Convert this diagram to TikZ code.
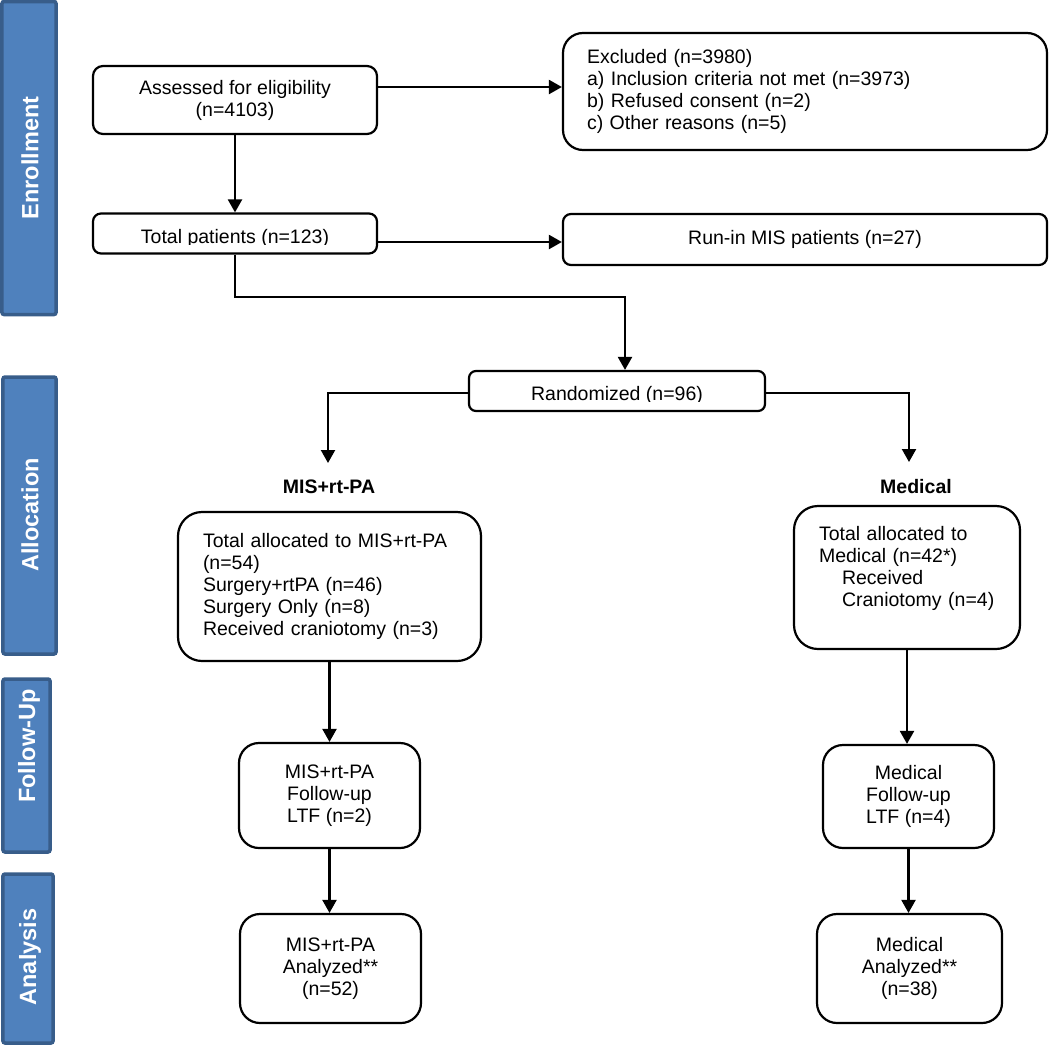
\documentclass[tikz,border=0pt]{standalone}
\usepackage{fontspec}
\setmainfont{Liberation Sans}
\usetikzlibrary{arrows.meta}
\definecolor{barfill}{HTML}{4F81BD}
\definecolor{barline}{HTML}{385D8A}
\begin{document}
\begin{tikzpicture}[x=1bp,y=-1bp,
  every node/.style={font=\fontsize{19.5bp}{22bp}\selectfont},
  box/.style={draw, line width=2.2bp, rounded corners=#1, inner sep=0pt, align=center},
  box/.default=12bp,
  lbox/.style={box=#1, align=left},
  lbox/.default=20bp,
  arr/.style={line width=2.2bp, -{Triangle[length=13bp,width=14bp]}},
  bar/.style={draw=barline, fill=barfill, line width=3.5bp, rounded corners=2bp, inner sep=0pt},
  bartxt/.style={rotate=90, text=white, font=\fontsize{23.5bp}{26bp}\selectfont\bfseries},
  head/.style={font=\fontsize{19.5bp}{22bp}\selectfont\bfseries}
]
\useasboundingbox (0,0) rectangle (1050,1049);

% side bars
\node[bar, minimum width=54bp, minimum height=313bp] (bEnr) at (29,158) {};
\node[bartxt] (tEnr) at (30,158) {Enrollment};
\node[bar, minimum width=53bp, minimum height=277bp] (bAll) at (29.5,515.5) {};
\node[bartxt] (tAll) at (30,515) {Allocation};
\node[bar, minimum width=47bp, minimum height=173bp] (bFol) at (26.5,765.5) {};
\node[bartxt] (tFol) at (29,746) {Follow-Up};
\node[bar, minimum width=50bp, minimum height=169bp] (bAna) at (28,958.5) {};
\node[bartxt] (tAna) at (30,957) {Analysis};

% enrollment
\node[box=10bp, minimum width=284bp, minimum height=68bp] (assess) at (235,100) {Assessed for eligibility\\(n=4103)};
\node[lbox=20bp, inner xsep=24bp, text width=436bp, minimum width=484bp, minimum height=117bp] (excl) at (805,91.5)
  {Excluded (n=3980)\\a) Inclusion criteria not met (n=3973)\\b) Refused consent (n=2)\\c) Other reasons (n=5)};
\node[box=8bp, minimum width=284bp, minimum height=40bp] (total) at (235,233.5) {};
\begin{scope}
  \clip (90,213) rectangle (380,244.5);
  \node[anchor=base] (totaltxt) at (235,243) {Total patients (n=123)};
\end{scope}
\node[box=8bp, minimum width=484bp, minimum height=51bp] (runin) at (805,239.5) {Run-in MIS patients (n=27)};
\node[box=7bp, minimum width=296bp, minimum height=40bp] (rand) at (617,391) {};
\begin{scope}
  \clip (466,370) rectangle (768,401.5);
  \node[anchor=base] (randtxt) at (617,400) {Randomized (n=96)};
\end{scope}

% allocation
\node[head] (mishead) at (329,487) {MIS+rt-PA};
\node[head] (medhead) at (916,487) {Medical};
\node[lbox=24bp, inner xsep=25bp, text width=253bp, minimum width=303bp, minimum height=149bp] (misA) at (329.5,586.5)
  {Total allocated to MIS+rt-PA\\(n=54)\\Surgery+rtPA (n=46)\\Surgery Only (n=8)\\Received craniotomy (n=3)};
\node[lbox=24bp, inner xsep=25bp, text width=176bp, minimum width=226bp, minimum height=143bp] (medA) at (907,577.5)
  {Total allocated to\\Medical (n=42*)\\\hspace*{23bp}Received\\\hspace*{23bp}Craniotomy (n=4)\\\mbox{}};

% follow-up
\node[box=20bp, minimum width=181bp, minimum height=105bp] (misF) at (329.5,795.5) {MIS+rt-PA\\Follow-up\\LTF (n=2)};
\node[box=20bp, minimum width=171bp, minimum height=103bp] (medF) at (908.5,796.5) {Medical\\Follow-up\\LTF (n=4)};

% analysis
\node[box=20bp, minimum width=181bp, minimum height=109bp] (misN) at (330.5,968.5) {MIS+rt-PA\\Analyzed**\\(n=52)};
\node[box=20bp, minimum width=185bp, minimum height=109bp] (medN) at (909.5,968.5) {Medical\\Analyzed**\\(n=38)};

% connectors
\coordinate (j1) at (625,297);
\coordinate (lt) at (328,463);
\coordinate (rt) at (909,462);
\draw[arr] ([yshift=13bp]assess.east) -- ([yshift=13bp]assess.east -| excl.west);
\draw[arr] (assess.south) -- (total.north);
\draw[arr] ([yshift=-8.5bp]total.east) -- ([yshift=-8.5bp]total.east -| runin.west);
\draw[arr] (total.south) |- (j1) -- (j1 |- rand.north);
\draw[arr] ([yshift=-2bp]rand.west) -| (lt);
\draw[arr] ([yshift=-2bp]rand.east) -| (rt);
\draw[arr] (misA.south) -- (misA.south |- misF.north);
\draw[arr] (medA.south) -- (medA.south |- medF.north);
\draw[arr] (misF.south) -- (misF.south |- misN.north);
\draw[arr] (medF.south) -- (medF.south |- medN.north);
\end{tikzpicture}
\end{document}
